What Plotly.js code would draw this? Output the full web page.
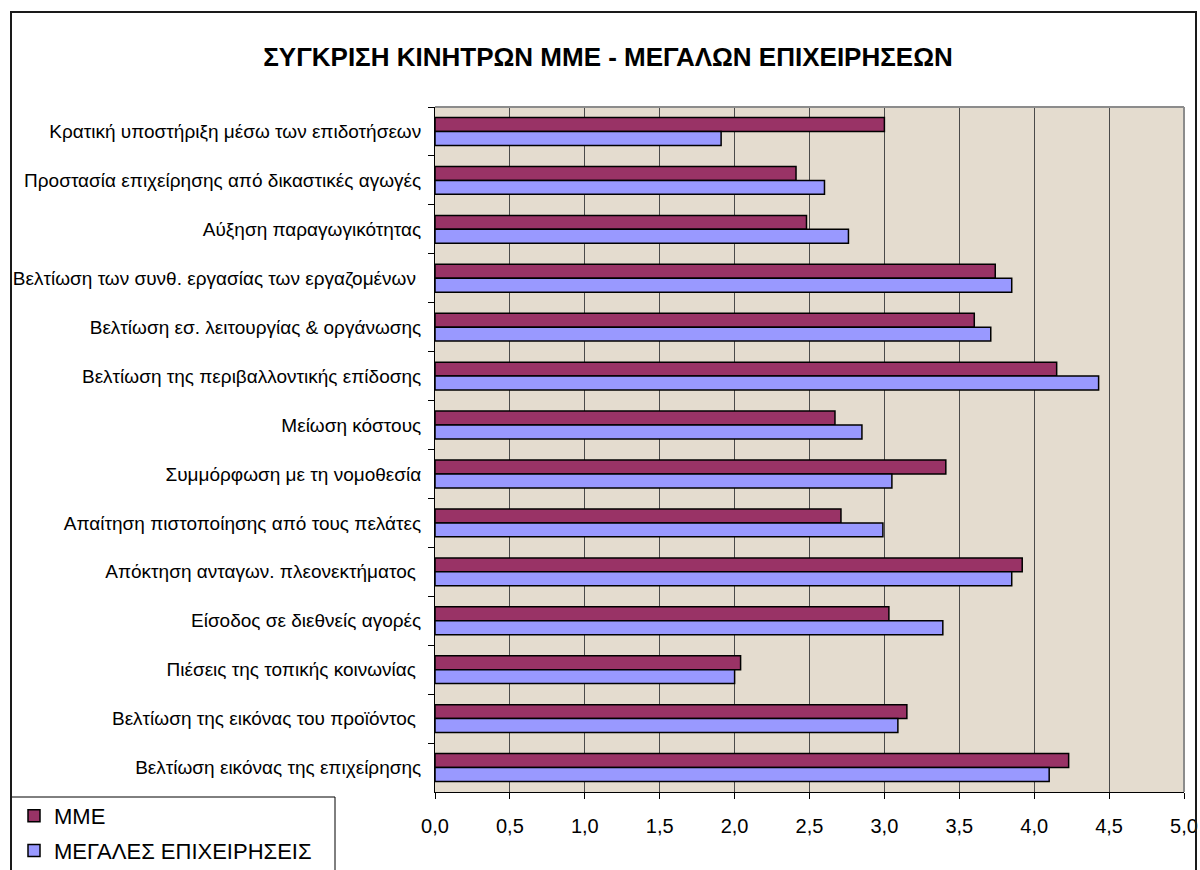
<!DOCTYPE html>
<html>
<head>
<meta charset="utf-8">
<script src="https://cdn.plot.ly/plotly-3.0.1.min.js"></script>
<style>
  html, body { margin: 0; padding: 0; background: #ffffff; overflow: hidden; }
  #chart { position: absolute; left: 0; top: 0; width: 1200px; height: 870px; }
  #frame { position: absolute; left: 10px; top: 11px; width: 1187px; height: 900px;
           border: 2px solid #1a1a1a; pointer-events: none; box-sizing: border-box; }
</style>
</head>
<body>
<div id="chart"></div>
<div id="frame"></div>
<script>
const categories = [
  "Κρατική υποστήριξη μέσω των επιδοτήσεων",
  "Προστασία επιχείρησης από δικαστικές αγωγές",
  "Αύξηση παραγωγικότητας",
  "Βελτίωση των συνθ. εργασίας των εργαζομένων\u00a0",
  "Βελτίωση εσ. λειτουργίας & οργάνωσης",
  "Βελτίωση της περιβαλλοντικής επίδοσης",
  "Μείωση κόστους",
  "Συμμόρφωση με τη νομοθεσία",
  "Απαίτηση πιστοποίησης από τους πελάτες",
  "Απόκτηση ανταγων. πλεονεκτήματος\u00a0",
  "Είσοδος σε διεθνείς αγορές",
  "Πιέσεις της τοπικής κοινωνίας\u00a0",
  "Βελτίωση της εικόνας του προϊόντος\u00a0",
  "Βελτίωση εικόνας της επιχείρησης"
];
const mmeValues   = [3.00, 2.41, 2.48, 3.74, 3.60, 4.15, 2.67, 3.41, 2.71, 3.92, 3.03, 2.04, 3.15, 4.23];
const largeValues = [1.91, 2.60, 2.76, 3.85, 3.71, 4.43, 2.85, 3.05, 2.99, 3.85, 3.39, 2.00, 3.09, 4.10];
const seriesNames = ["ΜΜΕ", "ΜΕΓΑΛΕΣ ΕΠΙΧΕΙΡΗΣΕΙΣ"];
const xTickValues = [0, 0.5, 1, 1.5, 2, 2.5, 3, 3.5, 4, 4.5, 5];
const chartTitle = "ΣΥΓΚΡΙΣΗ ΚΙΝΗΤΡΩΝ ΜΜΕ - ΜΕΓΑΛΩΝ ΕΠΙΧΕΙΡΗΣΕΩΝ";

const FONT = "Liberation Sans, Arial, sans-serif";

const traces = [
  {
    type: "bar", orientation: "h", name: seriesNames[0],
    x: mmeValues, y: categories, legendgroup: "a",
    marker: { color: "#993366", line: { color: "#000000", width: 1.5 } },
    hoverinfo: "x+y"
  },
  {
    type: "bar", orientation: "h", name: seriesNames[1],
    x: largeValues, y: categories, legendgroup: "b",
    marker: { color: "#9999FF", line: { color: "#000000", width: 1.5 } },
    hoverinfo: "x+y"
  }
];

const W = 1200, H = 870;
const L = 435, R = 1184, T = 107, B = 792;
const PW = R - L, PH = B - T;
function px(x) { return (x - L) / PW; }
function py(y) { return (B - y) / PH; }

const layout = {
  width: W, height: H,
  margin: { l: L, r: W - R, t: T, b: H - B, pad: 0, autoexpand: false },
  paper_bgcolor: "#ffffff",
  plot_bgcolor: "#e4dccf",
  separators: ",.",
  font: { family: FONT, size: 19, color: "#000000" },
  title: {
    text: "<b>" + chartTitle + "</b>",
    font: { family: FONT, size: 26, color: "#000000" },
    xref: "container", yref: "container",
    x: 608 / W, xanchor: "center",
    y: 1 - 57 / H, yanchor: "middle"
  },
  barmode: "group",
  bargap: 0.43,
  bargroupgap: 0,
  showlegend: true,
  legend: {
    xref: "container", yref: "container",
    x: 14 / W, xanchor: "left",
    y: 1 - 795 / H, yanchor: "top",
    bgcolor: "rgba(0,0,0,0)",
    borderwidth: 0,
    traceorder: "grouped",
    tracegroupgap: 3,
    font: { family: FONT, size: 22, color: "#000000" }
  },
  xaxis: {
    range: [0, 5],
    tickvals: xTickValues,
    tickformat: ".1f",
    ticks: "outside", ticklen: 6, tickcolor: "#000000", tickwidth: 1,
    ticklabelstandoff: 10,
    showgrid: true, gridcolor: "#4a4a4a", gridwidth: 1,
    showline: true, linecolor: "#000000", linewidth: 1,
    zeroline: false, automargin: false,
    tickfont: { family: FONT, size: 20, color: "#000000" },
    fixedrange: true
  },
  yaxis: {
    type: "category",
    autorange: "reversed",
    ticks: "outside", ticklen: 6, tickcolor: "#000000", tickwidth: 1,
    tickson: "boundaries",
    ticklabelstandoff: 9,
    showgrid: false, automargin: false,
    showline: true, linecolor: "#000000", linewidth: 1,
    tickfont: { family: FONT, size: 19, color: "#000000" },
    fixedrange: true
  },
  shapes: [
    { type: "line", xref: "paper", yref: "paper", x0: 0, x1: 1, y0: 1, y1: 1,
      line: { color: "#8c8c8c", width: 2 }, layer: "above" },
    { type: "line", xref: "paper", yref: "paper", x0: 1, x1: 1, y0: 0, y1: 1,
      line: { color: "#8c8c8c", width: 2 }, layer: "above" },
    { type: "rect", xref: "paper", yref: "paper",
      x0: px(11), x1: px(335), y0: py(797), y1: py(900),
      fillcolor: "#ffffff", line: { color: "#000000", width: 1 }, layer: "above" }
  ]
};

Plotly.newPlot("chart", traces, layout, { displayModeBar: false, staticPlot: true });
</script>
</body>
</html>
